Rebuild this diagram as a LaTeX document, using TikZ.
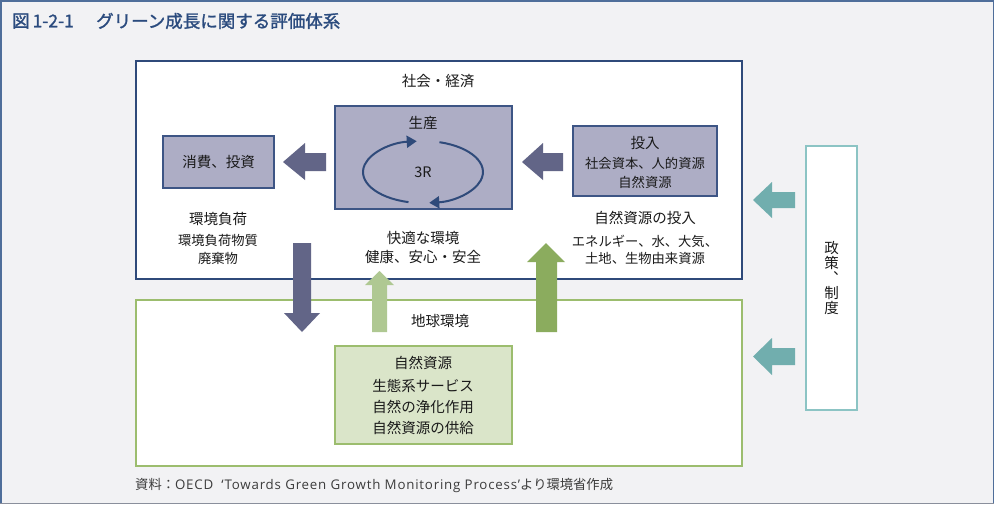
\documentclass[tikz,border=0pt]{standalone}
\usepackage{fontspec}
\usetikzlibrary{arrows.meta}
\setmainfont{Noto Sans CJK JP}
\setsansfont{Noto Sans CJK JP}
\newfontfamily\titlefont{Noto Sans CJK JP}[FakeBold=1.5]
\newfontfamily\latinfont{Open Sans}[LetterSpace=6]
\definecolor{bgc}{HTML}{F2F2F4}
\definecolor{outerc}{HTML}{4F6E9A}
\definecolor{outerb}{HTML}{8A8F9C}
\definecolor{titlec}{HTML}{2B4B7E}
\definecolor{navy}{HTML}{2F4A7A}
\definecolor{prodfill}{HTML}{ADADC5}
\definecolor{prodline}{HTML}{3D5585}
\definecolor{slate}{HTML}{626587}
\definecolor{greenline}{HTML}{9CBD6E}
\definecolor{natfill}{HTML}{DAE5C9}
\definecolor{lgreen}{HTML}{AFC892}
\definecolor{dgreen}{HTML}{8BAC5E}
\definecolor{teal}{HTML}{71AEAE}
\definecolor{tealline}{HTML}{8CC4C4}
\definecolor{txt}{HTML}{1A1A1A}
\begin{document}
\begin{tikzpicture}[x=1pt,y=-1pt,
  box/.style={rectangle, inner sep=0pt, line width=1.2pt},
  lbl/.style={inner sep=0pt, text=txt, font=\fontsize{14.5}{16}\selectfont},
  sub/.style={inner sep=0pt, text=txt, font=\fontsize{13.3}{15}\selectfont},
  cyc/.style={navy, line width=2pt, -{Triangle[length=10pt,width=12pt]}}]
\path[use as bounding box] (0,0) rectangle (994,504);
\fill[bgc] (0,0) rectangle (994,504);
\draw[outerc, line width=1.5pt] (0.75,503) -- (0.75,0.75) -- (993.25,0.75) -- (993.25,503);
\draw[outerb, line width=1.5pt] (0,503.25) -- (994,503.25);
% title
\node[anchor=west, inner sep=0pt, text=titlec, font=\fontsize{17.5}{19}\titlefont] (t1) at (12,21) {図\,1-2-1};
\node[anchor=west, inner sep=0pt, text=titlec, font=\fontsize{17.5}{19}\titlefont] (t2) at (96,21) {グリーン成長に関する評価体系};
% main boxes
\node[box, draw=navy, fill=white, minimum width=606pt, minimum height=218pt] (soc) at (439,170) {};
\node[box, draw=greenline, fill=white, minimum width=606pt, minimum height=166pt] (earth) at (439,383) {};
\node[box, draw=prodline, fill=prodfill, minimum width=177pt, minimum height=103pt] (prod) at (423.5,157.5) {};
\node[box, draw=prodline, fill=prodfill, minimum width=111pt, minimum height=52pt] (cons) at (218.5,162) {};
\node[box, draw=prodline, fill=prodfill, minimum width=144pt, minimum height=70pt] (inp) at (645,161) {};
\node[box, draw=greenline, fill=natfill, minimum width=177pt, minimum height=98pt] (nat) at (423.5,395) {};
\node[box, draw=tealline, fill=white, minimum width=51pt, minimum height=264pt] (pol) at (831.5,278) {};
% block arrows
\fill[slate] (326,153) -- (305,153) -- (305,143) -- (283,162) -- (305,180) -- (305,171) -- (326,171) -- cycle;
\fill[slate] (563,153) -- (543,153) -- (543,143) -- (522,162) -- (543,180) -- (543,171) -- (563,171) -- cycle;
\fill[slate] (293,243) -- (293,313) -- (284,313) -- (302,332) -- (320,313) -- (311,313) -- (311,243) -- cycle;
\fill[lgreen] (372,332) -- (372,285) -- (365,285) -- (379.5,271) -- (394,285) -- (387,285) -- (387,332) -- cycle;
\fill[dgreen] (536,332) -- (536,262) -- (527,262) -- (546,243) -- (565,262) -- (557,262) -- (557,332) -- cycle;
\fill[teal] (795,192) -- (772,192) -- (772,182) -- (753,200) -- (772,218) -- (772,208) -- (795,208) -- cycle;
\fill[teal] (795,348) -- (772,348) -- (772,338) -- (753,356.5) -- (772,375) -- (772,365) -- (795,365) -- cycle;
% cycle arrows
\coordinate (cc) at (423,172);
\draw[cyc] (408.5,202.1) arc[start angle=104, end angle=264, x radius=60, y radius=31];
\draw[cyc] (439.5,142.2) arc[start angle=-74, end angle=84, x radius=60, y radius=31];
% texts
\node[lbl] (l1) at (438,81) {社会・経済};
\node[lbl] (l2) at (423,123) {生産};
\node[lbl] (l3) at (cc) {3R};
\node[lbl] (l4) at (218.5,162) {消費、投資};
\node[lbl] (l5) at (645,143) {投入};
\node[sub] (l6) at (645,163) {社会資本、人的資源};
\node[sub] (l7) at (645,182) {自然資源};
\node[lbl] (l8) at (218,219) {環境負荷};
\node[sub] (l9) at (218,240) {環境負荷物質};
\node[sub] (l10) at (218,258) {廃棄物};
\node[lbl] (l11) at (423,238) {快適な環境};
\node[lbl] (l12) at (423,257) {健康、安心・安全};
\node[lbl] (l13) at (645,218) {自然資源の投入};
\node[sub] (l14) at (645,241) {エネルギー、水、大気、};
\node[sub] (l15) at (645,258) {土地、生物由来資源};
\node[lbl] (l16) at (440,321) {地球環境};
\node[lbl] (l17) at (423,363) {自然資源};
\node[lbl] (l18) at (423,386) {生態系サービス};
\node[lbl] (l19) at (423,407) {自然の浄化作用};
\node[lbl] (l20) at (423,428) {自然資源の供給};
\node[inner sep=0pt, text=txt, font=\fontsize{14.5}{15}\selectfont, align=center] (l21) at (831.5,278) {政\\策\\︑\\制\\度};
\node[anchor=west, inner sep=0pt, text=txt!85, font=\fontsize{13.3}{15}\selectfont] (src) at (135,485) {資料：{\latinfont OECD\hspace{8pt}‘Towards Green Growth Monitoring Process’}より環境省作成};
\end{tikzpicture}
\end{document}
